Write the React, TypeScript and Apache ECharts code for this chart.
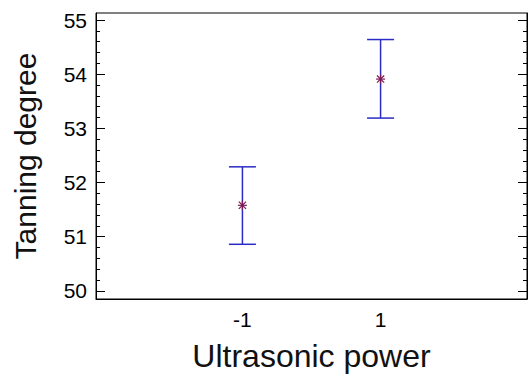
import React, { useEffect, useRef } from "react";
import * as echarts from "echarts";

const levels = [-1, 1];
const levelLabels = ["-1", "1"];
const means = [51.58, 53.91];
const lowers = [50.86, 53.19];
const uppers = [52.29, 54.64];
const yTicks = [50, 51, 52, 53, 54, 55];

export default function App() {
  const ref = useRef<HTMLDivElement>(null);
  useEffect(() => {
    document.body.style.margin = "0";
    const chart = echarts.init(ref.current!, undefined, { renderer: "svg" });
    const font = "'Liberation Sans', Arial, sans-serif";
    const data = levels.map((x, i) => [x, means[i], lowers[i], uppers[i]]);
    const sideAxis = (right: boolean) => ({
      type: "value",
      position: right ? "right" : "left",
      min: 49.85,
      max: 55.13,
      axisLine: { show: true, onZero: false, lineStyle: { color: "#000" } },
      axisTick: {
        show: true,
        inside: true,
        length: 9,
        customValues: yTicks,
        lineStyle: { color: "#000" },
      },
      minorTick: { show: true, splitNumber: 5, length: 4, lineStyle: { color: "#000" } },
      splitLine: { show: false },
    });
    chart.setOption({
      animation: false,
      backgroundColor: "#fff",
      grid: {
        left: 96,
        right: 1,
        top: 13,
        bottom: 83,
        show: true,
        borderColor: "#000",
        borderWidth: 1,
      },
      xAxis: {
        type: "value",
        min: -3.12,
        max: 3.12,
        name: "Ultrasonic power",
        nameLocation: "middle",
        nameGap: 41,
        nameTextStyle: { fontFamily: font, fontSize: 32, color: "#111" },
        axisLine: { show: true, onZero: false, lineStyle: { color: "#000" } },
        axisTick: { show: false },
        splitLine: { show: false },
        axisLabel: {
          customValues: levels,
          formatter: (v: number) => levelLabels[levels.indexOf(v)] ?? "",
          fontFamily: font,
          fontSize: 21,
          color: "#000",
          margin: 10,
        },
      },
      yAxis: [
        {
          ...sideAxis(false),
          name: "Tanning degree",
          nameLocation: "middle",
          nameGap: 56,
          nameTextStyle: { fontFamily: font, fontSize: 30, color: "#111" },
          axisLabel: {
            customValues: yTicks,
            fontFamily: font,
            fontSize: 21,
            color: "#000",
            margin: 9,
          },
        },
        {
          ...sideAxis(true),
          axisLabel: { show: false },
        },
      ],
      series: [
        {
          type: "custom",
          data,
          renderItem: (params: any, api: any) => {
            const x = api.value(0);
            const m = api.coord([x, api.value(1)]);
            const lo = api.coord([x, api.value(2)]);
            const hi = api.coord([x, api.value(3)]);
            const hw = 13.5;
            const blue = { stroke: "#2b2bc8", lineWidth: 1.5 };
            const star = { stroke: "#7a1a55", lineWidth: 1.2 };
            const s = 4.5;
            return {
              type: "group",
              children: [
                { type: "line", shape: { x1: lo[0], y1: lo[1], x2: hi[0], y2: hi[1] }, style: blue },
                { type: "line", shape: { x1: lo[0] - hw, y1: lo[1], x2: lo[0] + hw, y2: lo[1] }, style: blue },
                { type: "line", shape: { x1: hi[0] - hw, y1: hi[1], x2: hi[0] + hw, y2: hi[1] }, style: blue },
                { type: "line", shape: { x1: m[0] - s, y1: m[1], x2: m[0] + s, y2: m[1] }, style: star },
                { type: "line", shape: { x1: m[0], y1: m[1] - s, x2: m[0], y2: m[1] + s }, style: star },
                { type: "line", shape: { x1: m[0] - s * 0.8, y1: m[1] - s * 0.8, x2: m[0] + s * 0.8, y2: m[1] + s * 0.8 }, style: star },
                { type: "line", shape: { x1: m[0] - s * 0.8, y1: m[1] + s * 0.8, x2: m[0] + s * 0.8, y2: m[1] - s * 0.8 }, style: star },
              ],
            };
          },
        },
      ],
    });
    return () => chart.dispose();
  }, []);
  return <div ref={ref} style={{ width: 528, height: 382 }} />;
}
